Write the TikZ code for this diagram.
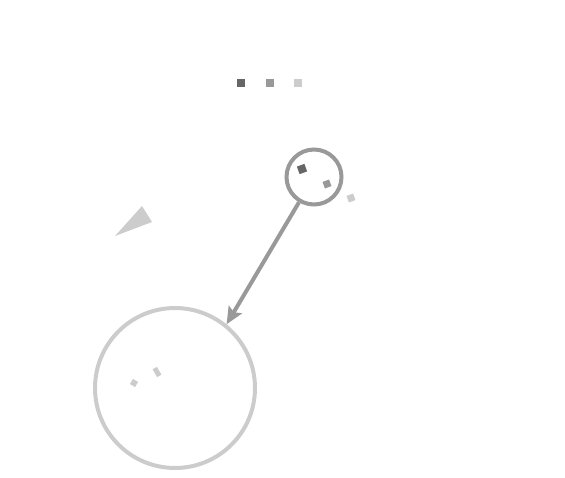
\documentclass[tikz,border=0pt]{standalone}
\usepackage{tikz}
\usetikzlibrary{arrows.meta}
\definecolor{dkg}{HTML}{666666}
\definecolor{mdg}{HTML}{999999}
\definecolor{ltg}{HTML}{CCCCCC}
\tikzset{dot/.style={minimum size=8pt,inner sep=0pt,outer sep=0pt},
         ring/.style={circle,draw,line width=4pt,inner sep=0pt},
         link/.style={-{Stealth[length=17pt,width=15pt,inset=3pt]},line width=4pt,mdg}}

\begin{document}
\begin{tikzpicture}[x=1pt,y=-1pt]
  \useasboundingbox (0,0) rectangle (565,478);
  % legend
  \node[dot,fill=dkg] (q1) at (241,83) {};
  \node[dot,fill=mdg] (q2) at (270,83) {};
  \node[dot,fill=ltg] (q3) at (298,83) {};
  % small ring
  \node[ring,mdg,minimum size=55pt] (s) at (314,177) {};
  \node[dot,fill=dkg,rotate=20] (d1) at (302,169) {};
  \node[dot,fill=mdg,rotate=20,minimum size=7pt] (d2) at (327,184) {};
  \node[dot,fill=ltg,rotate=20,minimum size=7pt] (d3) at (351,198) {};
  % big ring
  \node[ring,ltg,minimum size=160pt] (b) at (175,388) {};
  \node[dot,fill=ltg,rotate=-30,minimum size=6pt] (p1) at (134,383) {};
  \node[dot,fill=ltg,rotate=30,minimum width=5pt,minimum height=9pt] (p2) at (157,372) {};
  \fill[ltg] (115,236) -- (142,206) -- (152,222) -- cycle;
  \draw[link] (s) -- (b.51);
\end{tikzpicture}
\end{document}
